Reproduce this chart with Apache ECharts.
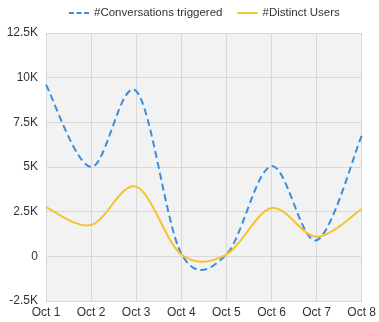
<!DOCTYPE html>
<html>
<head>
<meta charset="utf-8">
<script src="https://cdn.jsdelivr.net/npm/echarts@6/dist/echarts.min.js"></script>
<style>
  html, body { margin: 0; padding: 0; background: #fff; }
  #chart { width: 379px; height: 322px; }
</style>
</head>
<body>
<div id="chart"></div>
<script>
var days = ['Oct 1', 'Oct 2', 'Oct 3', 'Oct 4', 'Oct 5', 'Oct 6', 'Oct 7', 'Oct 8'];
var conversations = [9600, 5000, 9250, 150, 100, 5050, 900, 6750];
var users = [2750, 1750, 3900, 100, 100, 2700, 1100, 2650];
var seriesNames = ['#Conversations triggered', '#Distinct Users'];

// 12500 -> 12.5K, 0 -> 0
function fmtK(v) {
  if (v === 0) return '0';
  return (v / 1000) + 'K';
}

// catmull-rom curve through the points the axes give us (one path per series)
function curveItem(values, color, dash) {
  return function(params, api) {
    if (params.dataIndex !== 0) return null;
    var pts = values.map(function(v, i) { return api.coord([i, v]); });
    var n = pts.length;
    var d = 'M' + pts[0][0] + ',' + pts[0][1];
    for (var i = 0; i < n - 1; i++) {
      var p0 = pts[Math.max(i - 1, 0)], p1 = pts[i], p2 = pts[i + 1], p3 = pts[Math.min(i + 2, n - 1)];
      var c1x = p1[0] + (p2[0] - p0[0]) / 6, c1y = p1[1] + (p2[1] - p0[1]) / 6;
      var c2x = p2[0] - (p3[0] - p1[0]) / 6, c2y = p2[1] - (p3[1] - p1[1]) / 6;
      d += 'C' + c1x + ',' + c1y + ',' + c2x + ',' + c2y + ',' + p2[0] + ',' + p2[1];
    }
    return {
      type: 'path',
      shape: { pathData: d },
      style: { fill: 'none', stroke: color, lineWidth: 2, lineDash: dash }
    };
  };
}

function pairs(values) {
  return values.map(function(v, i) { return [i, v]; });
}

var blue = '#3a8fd8';
var yellow = '#f4c331';

var chart = echarts.init(document.getElementById('chart'));
var option = {
  animation: false,
  textStyle: { fontFamily: 'Arial, "Liberation Sans", sans-serif' },
  legend: {
    data: [
      { name: seriesNames[0], icon: 'path://M0,0h5v2h-5zM7.5,0h5v2h-5zM15,0h5v2h-5z' },
      { name: seriesNames[1], icon: 'path://M0,0h20v2h-20z' }
    ],
    top: 2,
    left: 64,
    itemWidth: 20,
    itemHeight: 2,
    itemGap: 15,
    textStyle: { color: '#333', fontSize: 11.5 }
  },
  grid: {
    left: 46,
    right: 16,
    top: 33,
    bottom: 21,
    show: true,
    backgroundColor: '#f2f2f2',
    borderWidth: 0
  },
  xAxis: {
    type: 'category',
    data: days,
    boundaryGap: false,
    axisLine: { show: false },
    axisTick: { show: false },
    axisLabel: { color: '#333', fontSize: 12, margin: 6 },
    splitLine: { show: true, lineStyle: { color: '#d8d8d8', width: 1 } }
  },
  yAxis: {
    type: 'value',
    min: -2500,
    max: 12500,
    interval: 2500,
    axisLine: { show: false },
    axisTick: { show: false },
    axisLabel: { color: '#333', fontSize: 12, margin: 8, formatter: fmtK },
    splitLine: { lineStyle: { color: '#d8d8d8', width: 1 } }
  },
  series: [
    {
      name: seriesNames[0],
      type: 'custom',
      data: pairs(conversations),
      encode: { x: 0, y: 1 },
      color: blue,
      renderItem: curveItem(conversations, blue, [7, 4])
    },
    {
      name: seriesNames[1],
      type: 'custom',
      data: pairs(users),
      encode: { x: 0, y: 1 },
      color: yellow,
      renderItem: curveItem(users, yellow, null)
    }
  ]
};
chart.setOption(option);
</script>
</body>
</html>
